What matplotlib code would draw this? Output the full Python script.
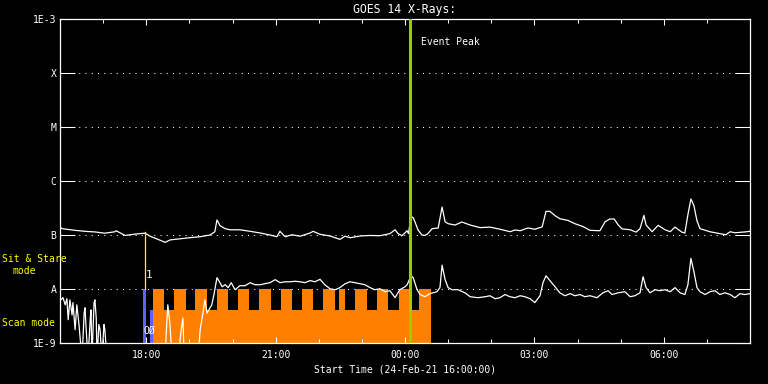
import numpy as np
import matplotlib
matplotlib.use("Agg")
import matplotlib.pyplot as plt

# hours after 24-Feb-21 16:00
long_time = [0.00, 0.05, 0.35, 0.58, 0.81, 1.04, 1.28, 1.30, 1.51, 1.74, 1.97, 2.09,
             2.32, 2.44, 2.55, 2.78, 3.01, 3.25, 3.48, 3.59, 3.64, 3.71, 3.83, 3.94,
             4.17, 4.41, 4.64, 4.87, 5.03, 5.10, 5.22, 5.38, 5.57, 5.80, 5.87, 6.03,
             6.26, 6.49, 6.61, 6.73, 6.96, 7.19, 7.42, 7.65, 7.77, 7.84, 7.93, 8.05,
             8.08, 8.14, 8.19, 8.23, 8.30, 8.39, 8.46, 8.53, 8.63, 8.77, 8.86, 8.93,
             9.00, 9.16, 9.32, 9.51, 9.74, 9.97, 10.20, 10.44, 10.55, 10.67, 10.85, 11.01,
             11.18, 11.27, 11.36, 11.48, 11.59, 11.78, 11.94, 12.13, 12.29, 12.52, 12.64, 12.75,
             12.85, 12.94, 13.03, 13.22, 13.36, 13.45, 13.54, 13.59, 13.73, 13.87, 14.03, 14.15,
             14.26, 14.42, 14.49, 14.56, 14.63, 14.70, 14.77, 14.84, 15.07, 15.30, 15.44, 15.54,
             15.65, 15.88, 16.00]
long_flux = [1.41e-7, 1.31e-7, 1.22e-7, 1.17e-7, 1.14e-7, 1.08e-7, 1.15e-7, 1.20e-7, 0.98e-7, 1.04e-7, 1.08e-7, 9.5e-8,
             8.0e-8, 7.3e-8, 8.1e-8, 8.5e-8, 8.9e-8, 9.3e-8, 1.00e-7, 1.15e-7, 1.90e-7, 1.49e-7, 1.31e-7, 1.25e-7,
             1.25e-7, 1.17e-7, 1.09e-7, 1.00e-7, 9.3e-8, 1.17e-7, 9.3e-8, 1.01e-7, 9.5e-8, 1.09e-7, 1.17e-7, 1.03e-7,
             9.6e-8, 8.3e-8, 9.5e-8, 8.9e-8, 9.6e-8, 0.98e-7, 9.7e-8, 1.06e-7, 1.25e-7, 1.06e-7, 9.7e-8, 1.20e-7,
             1.06e-7, 2.21e-7, 2.09e-7, 1.76e-7, 1.25e-7, 1.00e-7, 0.98e-7, 1.06e-7, 1.31e-7, 1.35e-7, 3.3e-7, 1.76e-7,
             1.62e-7, 1.53e-7, 1.74e-7, 1.53e-7, 1.37e-7, 1.40e-7, 1.28e-7, 1.15e-7, 1.24e-7, 1.20e-7, 1.35e-7, 1.28e-7,
             1.41e-7, 2.74e-7, 2.74e-7, 2.28e-7, 2.00e-7, 1.86e-7, 1.62e-7, 1.43e-7, 1.22e-7, 1.20e-7, 1.76e-7, 1.98e-7,
             1.98e-7, 1.55e-7, 1.30e-7, 1.25e-7, 1.13e-7, 1.31e-7, 2.31e-7, 1.53e-7, 1.15e-7, 1.51e-7, 1.25e-7, 1.15e-7,
             1.40e-7, 1.13e-7, 1.09e-7, 2.38e-7, 4.64e-7, 3.49e-7, 1.84e-7, 1.31e-7, 1.15e-7, 1.06e-7, 1.01e-7, 1.15e-7,
             1.10e-7, 1.14e-7, 1.17e-7]

short_time = [0.00, 0.02, 0.07, 0.12, 0.16, 0.19, 0.23, 0.28, 0.30, 0.35, 0.39, 0.44,
              0.46, 0.51, 0.56, 0.58, 0.60, 0.65, 0.70, 0.72, 0.74, 0.79, 0.81, 0.84,
              0.86, 0.90, 0.93, 0.97, 1.02, 1.04, 1.09, 2.43, 2.48, 2.50, 2.55, 2.60,
              2.74, 2.81, 2.85, 2.88, 3.20, 3.25, 3.32, 3.36, 3.41, 3.48, 3.52, 3.57,
              3.64, 3.71, 3.76, 3.83, 3.90, 3.97, 4.06, 4.17, 4.29, 4.41, 4.52, 4.64,
              4.75, 4.87, 4.99, 5.10, 5.22, 5.33, 5.45, 5.57, 5.68, 5.80, 5.91, 6.03,
              6.14, 6.26, 6.38, 6.49, 6.61, 6.72, 6.84, 6.96, 7.07, 7.19, 7.30, 7.42,
              7.54, 7.65, 7.77, 7.88, 8.00, 8.05, 8.14, 8.19, 8.28, 8.35, 8.46, 8.58,
              8.65, 8.74, 8.81, 8.86, 8.93, 9.00, 9.09, 9.23, 9.39, 9.51, 9.69, 9.86,
              9.97, 10.09, 10.20, 10.32, 10.43, 10.55, 10.67, 10.78, 10.90, 11.01, 11.13, 11.20,
              11.27, 11.36, 11.48, 11.59, 11.71, 11.83, 11.94, 12.06, 12.17, 12.29, 12.45, 12.59,
              12.71, 12.80, 12.94, 13.10, 13.22, 13.33, 13.45, 13.52, 13.59, 13.68, 13.80, 13.91,
              14.03, 14.15, 14.26, 14.38, 14.49, 14.56, 14.63, 14.70, 14.77, 14.84, 14.96, 15.07,
              15.19, 15.30, 15.42, 15.54, 15.65, 15.77, 15.88, 16.00]
short_flux = [7.2e-9, 6.3e-9, 6.9e-9, 5.1e-9, 6.6e-9, 2.7e-9, 6.3e-9, 3.3e-9, 5.6e-9, 1.76e-9, 5.1e-9, 2.2e-9,
              1.43e-9, 5e-10, 3.6e-9, 4.5e-9, 2.2e-9, 5e-10, 2.7e-9, 4.1e-9, 5e-10, 5.6e-9, 6.3e-9, 2.9e-9,
              5e-10, 2.2e-9, 1.76e-9, 5e-10, 2.2e-9, 1.76e-9, 5e-10, 5e-10, 2.7e-9, 5.1e-9, 2.2e-9, 5e-10,
              5e-10, 1.76e-9, 2.9e-9, 5e-10, 5e-10, 1.76e-9, 3.8e-9, 6.3e-9, 3.6e-9, 4.5e-9, 5.1e-9, 7.9e-9,
              1.62e-8, 1.31e-8, 1.10e-8, 1.20e-8, 1.06e-8, 1.31e-8, 9.7e-9, 1.15e-8, 1.15e-8, 1.31e-8, 1.20e-8, 1.20e-8,
              1.25e-8, 1.31e-8, 1.49e-8, 1.31e-8, 1.36e-8, 1.36e-8, 1.39e-8, 1.36e-8, 1.31e-8, 1.43e-8, 1.36e-8, 1.51e-8,
              1.20e-8, 1.01e-8, 9.7e-9, 1.06e-8, 1.25e-8, 1.36e-8, 1.31e-8, 1.25e-8, 1.20e-8, 1.06e-8, 9.7e-9, 1.01e-8,
              8.9e-9, 9.3e-9, 6.9e-9, 9.7e-9, 1.10e-8, 1.20e-8, 1.76e-8, 1.62e-8, 9.7e-9, 7.9e-9, 7.2e-9, 8.2e-9,
              8.5e-9, 8.9e-9, 1.06e-8, 2.76e-8, 1.49e-8, 1.06e-8, 9.7e-9, 9.7e-9, 8.5e-9, 7.2e-9, 6.9e-9, 7.2e-9,
              7.5e-9, 6.6e-9, 6.9e-9, 7.9e-9, 7.2e-9, 6.9e-9, 7.5e-9, 7.2e-9, 6.6e-9, 5.6e-9, 7.5e-9, 1.31e-8,
              1.76e-8, 1.43e-8, 1.10e-8, 8.5e-9, 7.5e-9, 8.2e-9, 7.5e-9, 7.9e-9, 7.2e-9, 7.5e-9, 6.9e-9, 8.5e-9,
              9.3e-9, 7.9e-9, 8.5e-9, 8.9e-9, 7.2e-9, 7.5e-9, 8.5e-9, 1.69e-8, 1.06e-8, 8.5e-9, 9.7e-9, 9.3e-9,
              9.7e-9, 8.9e-9, 1.06e-8, 8.5e-9, 7.9e-9, 1.20e-8, 3.69e-8, 2.09e-8, 1.06e-8, 8.9e-9, 7.9e-9, 8.9e-9,
              9.3e-9, 7.9e-9, 8.5e-9, 7.9e-9, 6.9e-9, 8.2e-9, 7.9e-9, 8.2e-9]

# observing modes
scan_span = (2.15, 8.60)
stare_starts = [2.15, 2.64, 3.13, 3.65, 4.13, 4.61, 5.13, 5.62, 6.11, 6.47, 6.84, 7.34, 7.85, 8.33]
stare_ends = [2.41, 2.92, 3.42, 3.90, 4.38, 4.89, 5.39, 5.87, 6.38, 6.61, 7.11, 7.61, 8.12, 8.60]
blue_stare = (1.93, 1.99)
blue_scan = (2.09, 2.15)
stare_level = 1e-8
scan_level = 4.1e-9

event_peak = 8.12
marker_time = 1.98

tick_hours = [2, 5, 8, 11, 14]
tick_labels = ["18:00", "21:00", "00:00", "03:00", "06:00"]
level_values = [1e-9, 1e-8, 1e-7, 1e-6, 1e-5, 1e-4, 1e-3]
level_labels = ["1E-9", "A", "B", "C", "M", "X", "1E-3"]

ORANGE = "#ff8000"
BLUE = "#6060ff"
YELLOW = "#ffff00"
GREEN = "#9acd00"

plt.rcParams["font.family"] = "DejaVu Sans Mono"
fig = plt.figure(figsize=(7.68, 3.84), dpi=100, facecolor="black")
ax = fig.add_axes([60 / 768, 1 - 343 / 384, 690 / 768, 324 / 384])
ax.set_facecolor("black")
ax.set_yscale("log")
ax.set_xlim(0, 16)
ax.set_ylim(1e-9, 1e-3)

# dotted level lines
for lv in level_values[1:-1]:
    ax.axhline(lv, color="white", lw=0.75, ls=(0, (1, 5)), zorder=0.5)

# mode bars
ax.fill_between(scan_span, 1e-10, scan_level, color=ORANGE, lw=0, zorder=1)
for s, e in zip(stare_starts, stare_ends):
    ax.fill_between([s, e], 1e-10, stare_level, color=ORANGE, lw=0, zorder=1)
ax.fill_between(blue_stare, 1e-10, stare_level, color=BLUE, lw=0, zorder=1)
ax.fill_between(blue_scan, 1e-10, scan_level, color=BLUE, lw=0, zorder=1)

ax.plot(long_time, long_flux, color="white", lw=0.9, zorder=3)
ax.plot(short_time, short_flux, color="white", lw=0.9, zorder=3)

ax.plot([marker_time, marker_time], [stare_level, 1.12e-7], color=YELLOW, lw=0.9, zorder=3)
ax.axvline(event_peak, color=GREEN, lw=2.2, zorder=4)
ax.text(8.36, 3.7e-4, "Event Peak", color="white", fontsize=7, va="center", ha="left")
ax.text(2.06, 1.8e-8, "1", color="white", fontsize=8, va="center", ha="center", zorder=5)
ax.text(1.93, 1.7e-9, "OØ", color="white", fontsize=7, va="center", ha="left", zorder=5)

ax.set_yticks(level_values)
ax.set_yticklabels(level_labels)
ax.yaxis.set_minor_locator(matplotlib.ticker.NullLocator())
ax.set_xticks(tick_hours)
ax.set_xticklabels(tick_labels)
ax.set_xticks(range(1, 16), minor=True)

ax.tick_params(axis="y", which="major", direction="in", length=10.5, width=0.75,
               left=True, right=True, colors="white", labelsize=7, pad=2.5)
ax.tick_params(axis="x", which="major", direction="in", length=4.5, width=0.75,
               top=True, bottom=True, colors="white", labelsize=7, pad=5)
ax.tick_params(axis="x", which="minor", direction="in", length=2.7, width=0.75,
               top=True, bottom=True, colors="white")
for sp in ax.spines.values():
    sp.set_color("white")
    sp.set_linewidth(0.9)

fig.text(405 / 768, 1 - 9.5 / 384, "GOES 14 X-Rays:", color="white", fontsize=8.3,
         ha="center", va="center")
fig.text(405 / 768, 1 - 369 / 384, "Start Time (24-Feb-21 16:00:00)", color="white",
         fontsize=7, ha="center", va="center")
fig.text(2 / 768, 1 - 258.5 / 384, "Sit & Stare", color=YELLOW, fontsize=7, ha="left", va="center")
fig.text(12.5 / 768, 1 - 271.5 / 384, "mode", color=YELLOW, fontsize=7, ha="left", va="center")
fig.text(2 / 768, 1 - 323 / 384, "Scan mode", color=YELLOW, fontsize=7, ha="left", va="center")

fig.savefig("out.png", dpi=100, facecolor="black")
